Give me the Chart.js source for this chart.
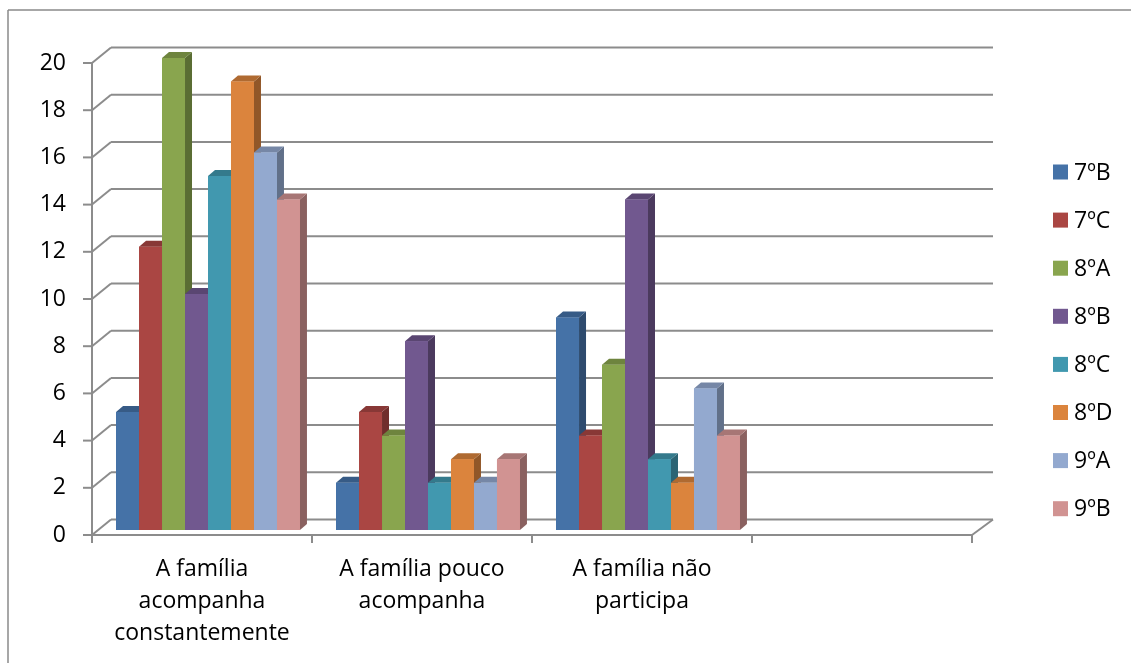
<!DOCTYPE html>
<html>
<head>
<meta charset="utf-8">
<title>Acompanhamento da família</title>
<script src="https://cdn.jsdelivr.net/npm/chart.js@4.4.1/dist/chart.umd.min.js"></script>
<style>
	body { margin: 0; background: #fff; }
	#wrap { width: 1131px; height: 663px; }
</style>
</head>
<body>
<div id="wrap"><canvas id="canvas0" width="1131" height="663"></canvas></div>
<script>
// Categories (last one is an empty slot on the axis)
var categories = [
	['A família', 'acompanha', 'constantemente'],
	['A família pouco', 'acompanha'],
	['A família não', 'participa'],
	''
];
var turmas = ['7ºB', '7ºC', '8ºA', '8ºB', '8ºC', '8ºD', '9ºA', '9ºB'];
var colors = ['#4572A7', '#AA4643', '#89A54E', '#71588F', '#4198AF', '#DB843D', '#93A9CF', '#D19392'];

// One array per class, one value per category
var v7B = [5, 2, 9, null];
var v7C = [12, 5, 4, null];
var v8A = [20, 4, 7, null];
var v8B = [10, 8, 14, null];
var v8C = [15, 2, 3, null];
var v8D = [19, 3, 2, null];
var v9A = [16, 2, 6, null];
var v9B = [14, 3, 4, null];
var values = [v7B, v7C, v8A, v8B, v8C, v8D, v9A, v9B];

var yTicks = [0, 2, 4, 6, 8, 10, 12, 14, 16, 18, 20];

var FONT = '"Open Sans", Lato, sans-serif';
var LINE = '#8c8c8c';
// 3D offsets (px)
var depth = { dx: 7, dy: -6 };          // bar thickness
var front = { dx: -6, dy: 5 };          // front edge of the floor
var back = { dx: 13, dy: -10.5 };       // back wall

function shade(hex, f) {
	let n = parseInt(hex.slice(1), 16);
	let r = Math.round(((n >> 16) & 255) * f);
	let g = Math.round(((n >> 8) & 255) * f);
	let b = Math.round((n & 255) * f);
	return 'rgb(' + r + ',' + g + ',' + b + ')';
}

function line(ctx, x1, y1, x2, y2) {
	ctx.beginPath();
	ctx.moveTo(x1, y1);
	ctx.lineTo(x2, y2);
	ctx.stroke();
}

function poly(ctx, pts, color) {
	ctx.fillStyle = color;
	ctx.beginPath();
	ctx.moveTo(pts[0][0], pts[0][1]);
	for(let i = 1; i < pts.length; i++)
		ctx.lineTo(pts[i][0], pts[i][1]);
	ctx.closePath();
	ctx.fill();
}

// Outer frame, walls, gridlines and axis lines
var framePlugin = {
	id: 'frame3d',
	beforeDraw: function(chart) {
		let ctx = chart.ctx;
		ctx.save();
		ctx.fillStyle = '#fff';
		ctx.fillRect(0, 0, chart.width, chart.height);
		ctx.strokeStyle = '#8a8a8a';
		ctx.lineWidth = 1.5;
		line(ctx, 8, 10, chart.width, 10);
		line(ctx, 8, 10, 8, chart.height);
		ctx.restore();
	},
	beforeDatasetsDraw: function(chart) {
		let ctx = chart.ctx, y = chart.scales.y, area = chart.chartArea;
		let fl = area.left + front.dx, fr = area.right + front.dx;
		let bl = area.left + back.dx, br = area.right + back.dx + 2;
		ctx.save();
		ctx.strokeStyle = LINE;
		ctx.lineWidth = 2;
		yTicks.forEach(function(v) {
			let p = y.getPixelForValue(v);
			line(ctx, bl, p + back.dy, br, p + back.dy);
			line(ctx, fl, p + front.dy, bl, p + back.dy);
			line(ctx, fl - 9, p + front.dy, fl, p + front.dy);
		});
		let p0 = y.getPixelForValue(0), pTop = y.getPixelForValue(20);
		// front vertical axis and floor edge
		line(ctx, fl, pTop + front.dy, fl, p0 + front.dy + 8);
		line(ctx, fl, p0 + front.dy, fr, p0 + front.dy);
		line(ctx, fr, p0 + front.dy, br, p0 + back.dy);
		// category separators
		let step = (fr - fl) / categories.length;
		for(let i = 1; i <= categories.length; i++)
			line(ctx, fl + step * i, p0 + front.dy, fl + step * i, p0 + front.dy + 8);
		ctx.restore();
	},
	afterDatasetsDraw: function(chart) {
		// Paint the bars left to right: side, top, then front face
		let ctx = chart.ctx;
		ctx.save();
		for(let c = 0; c < categories.length; c++) {
			for(let d = 0; d < chart.data.datasets.length; d++) {
				let el = chart.getDatasetMeta(d).data[c];
				let val = chart.data.datasets[d].data[c];
				if(!el || val === null || val === undefined)
					continue;
				let col = colors[d];
				let l = el.x - el.width / 2, r = el.x + el.width / 2;
				let t = el.y, b = el.base;
				poly(ctx, [[r, t], [r + depth.dx, t + depth.dy], [r + depth.dx, b + depth.dy], [r, b]], shade(col, 0.66));
				poly(ctx, [[l, t], [l + depth.dx, t + depth.dy], [r + depth.dx, t + depth.dy], [r, t]], shade(col, 0.8));
				ctx.fillStyle = col;
				ctx.fillRect(l, t, r - l, b - t);
			}
		}
		ctx.restore();
	},
	afterDraw: function(chart) {
		// Legend on the right
		let ctx = chart.ctx;
		ctx.save();
		ctx.font = '23px ' + FONT;
		ctx.textBaseline = 'middle';
		ctx.textAlign = 'left';
		turmas.forEach(function(name, i) {
			let cy = 172 + i * 48.1;
			ctx.fillStyle = colors[i];
			ctx.fillRect(1053, cy - 7.5, 15, 15);
			ctx.fillStyle = '#000';
			ctx.fillText(name, 1074, cy + 1);
		});
		ctx.restore();
	}
};

var datasets = turmas.map(function(name, i) {
	return {
		label: name,
		data: values[i],
		backgroundColor: colors[i],
		borderWidth: 0,
		categoryPercentage: 0.836,
		barPercentage: 1.0
	};
});

var chart = new Chart(document.getElementById('canvas0').getContext('2d'), {
	type: 'bar',
	data: {
		labels: categories,
		datasets: datasets
	},
	plugins: [framePlugin],
	options: {
		responsive: false,
		animation: false,
		devicePixelRatio: 1,
		layout: {
			padding: { left: 38, right: 153, top: 58, bottom: 0 }
		},
		plugins: {
			legend: { display: false },
			tooltip: { enabled: false }
		},
		scales: {
			x: {
				grid: { display: false, drawTicks: false },
				border: { display: false },
				afterFit: function(scale) { scale.height = 133; },
				ticks: {
					color: '#000',
					font: { family: FONT, size: 23, lineHeight: 1.38 },
					padding: 24,
					labelOffset: -6,
					maxRotation: 0,
					autoSkip: false
				}
			},
			y: {
				min: 0,
				max: 20,
				grid: { display: false, drawTicks: false },
				border: { display: false },
				afterFit: function(scale) { scale.width = 60; },
				ticks: {
					stepSize: 2,
					color: '#000',
					font: { family: FONT, size: 23 },
					padding: 32,
					labelOffset: 5
				}
			}
		}
	}
});
</script>
</body>
</html>
